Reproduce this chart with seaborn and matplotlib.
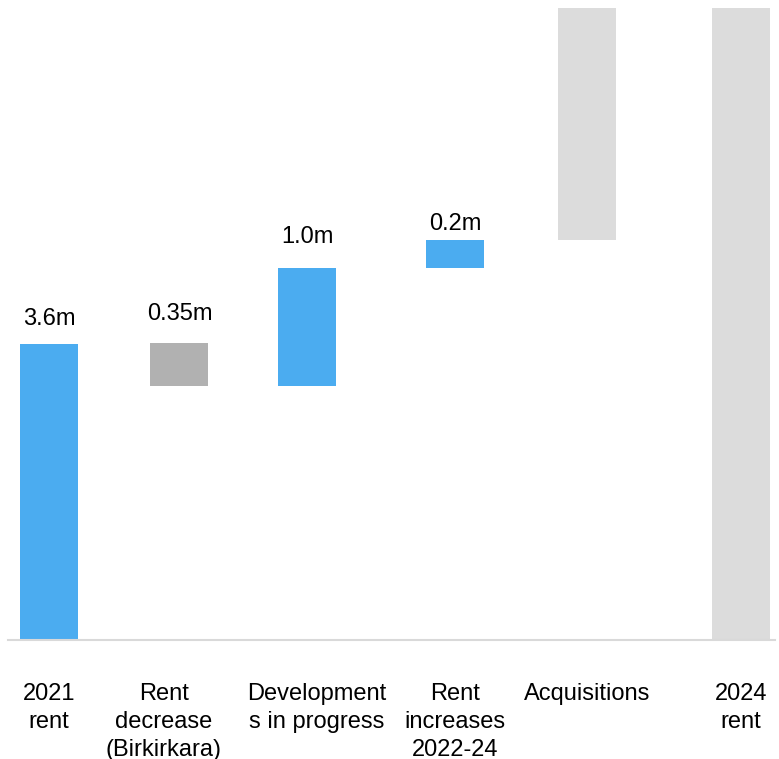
import matplotlib
matplotlib.use("Agg")
import matplotlib.pyplot as plt
import seaborn as sns
import pandas as pd

# ---- data (in m) ----
categories = ["2021\nrent", "Rent\ndecrease\n(Birkirkara)", "Development\ns in progress",
              "Rent\nincreases\n2022-24", "Acquisitions", "2024\nrent"]
bar_bottoms = [0.0, 3.09, 3.09, 4.53, 4.87, 0.0]
bar_tops = [3.60, 3.61, 4.53, 4.87, 8.30, 8.30]
value_labels = ["3.6m", "0.35m", "1.0m", "0.2m", "", ""]

# ---- layout / style ----
bar_centers = [49.5, 179.5, 307, 455, 587, 741]
label_centers = [49, 164, 317, 455, 587, 741]
label_gaps_px = [19, 23, 25, 10, 0, 0]
bar_colors = ["#4BACF0", "#B1B1B1", "#4BACF0", "#4BACF0", "#DCDCDC", "#DCDCDC"]

sns.set_theme(style="white")
plt.rcParams["font.family"] = ["Liberation Sans", "DejaVu Sans"]

df = pd.DataFrame({"pos": bar_centers, "top": bar_tops, "bottom": bar_bottoms,
                   "cat": [c.replace("\n", " ") for c in categories]})

fig = plt.figure(figsize=(7.79, 7.59), dpi=100)
ax = fig.add_axes([0, (759 - 640) / 759, 1, (640 - 8) / 759])

width_frac = 58 / 127.5
sns.barplot(data=df, x="pos", y="top", hue="cat", palette=bar_colors,
            native_scale=True, width=width_frac, legend=False, linewidth=0,
            saturation=1, ax=ax)
sns.barplot(data=df, x="pos", y="bottom", color="white", native_scale=True,
            width=width_frac * 1.04, linewidth=0, saturation=1, ax=ax)

ax.set_xlim(0, 779)
ax.set_ylim(0, (640 - 8) / (296 / 3.6))

for x, t, lab, g in zip(bar_centers, bar_tops, value_labels, label_gaps_px):
    if lab:
        ax.annotate(lab, (x, t), xytext=(0, g * 0.72), textcoords="offset points",
                    ha="center", va="baseline", fontsize=17, color="black")

for s in ["top", "left", "right"]:
    ax.spines[s].set_visible(False)
ax.spines["bottom"].set_bounds(8, 775)
ax.spines["bottom"].set_color("#D9D9D9")
ax.spines["bottom"].set_linewidth(1.5)
ax.spines["bottom"].set_zorder(5)

ax.set_xticks(label_centers)
ax.set_xticklabels(categories, fontsize=17, color="black")
plt.setp(ax.get_xticklabels(), linespacing=1.36)
ax.tick_params(axis="x", length=0, pad=31)
ax.set_yticks([])
ax.set_xlabel("")
ax.set_ylabel("")

fig.savefig("out.png", dpi=100)
